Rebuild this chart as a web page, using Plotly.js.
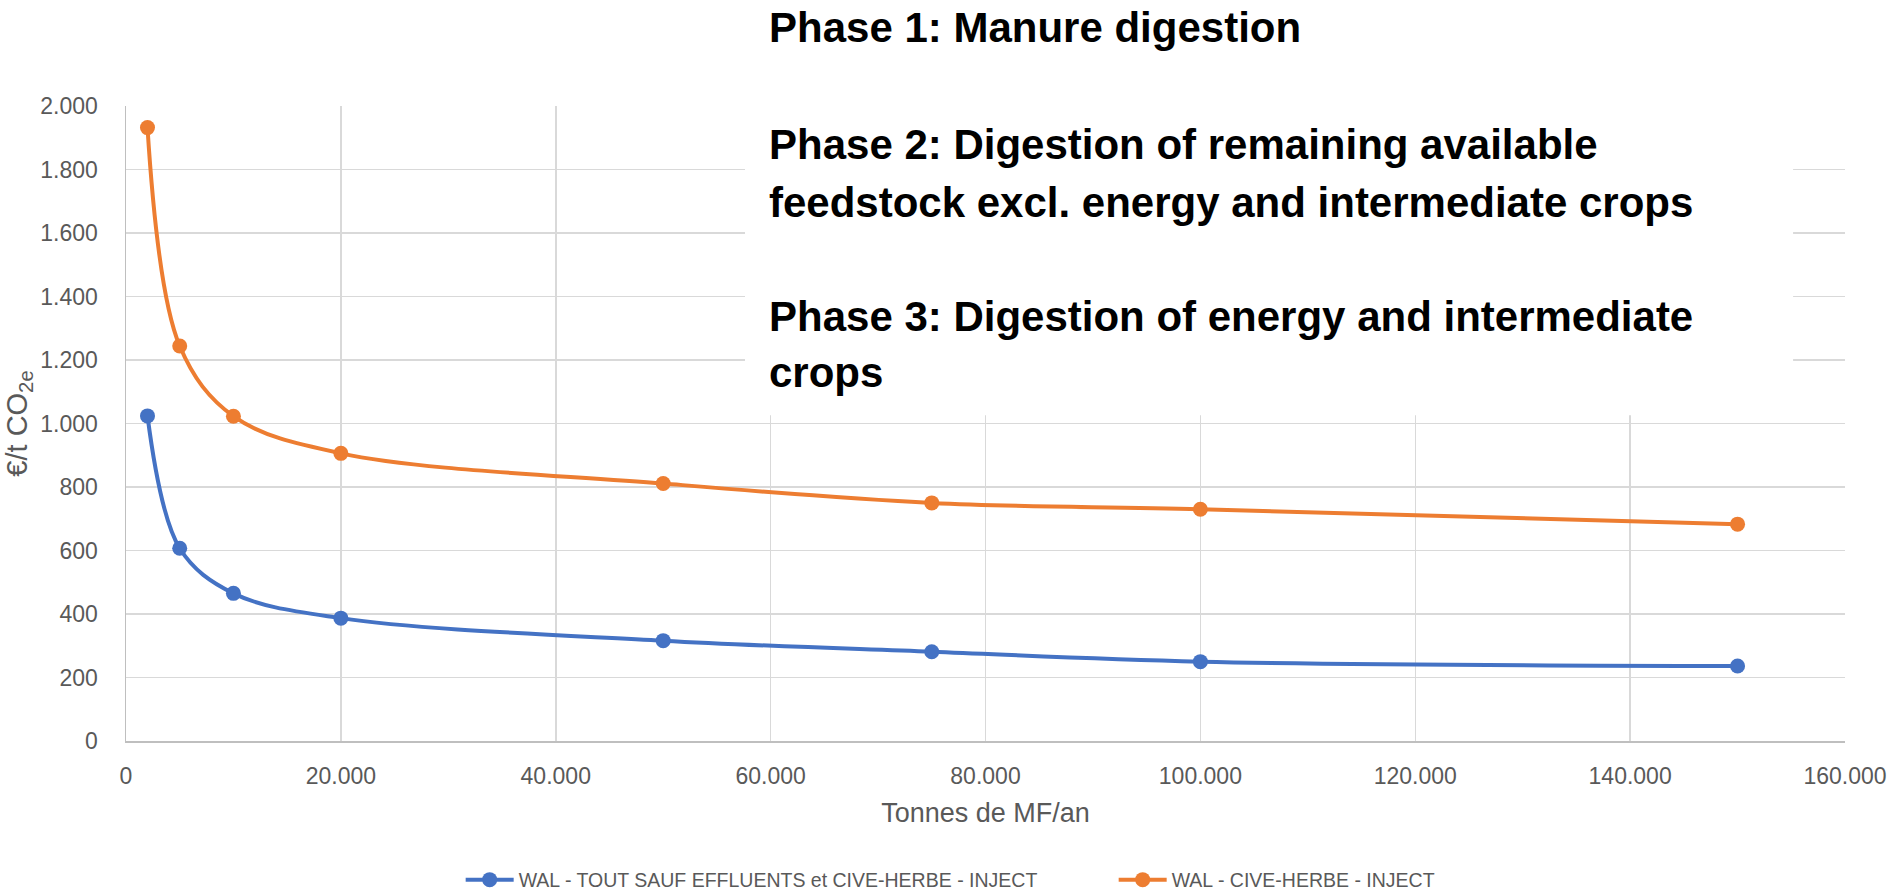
<!DOCTYPE html>
<html>
<head>
<meta charset="utf-8">
<script src="https://cdn.plot.ly/plotly-3.0.1.min.js"></script>
<style>html,body{margin:0;padding:0;background:#fff;}#chart{width:1888px;height:892px;}</style>
</head>
<body>
<div id="chart"></div>
<script>
// Data
const tonnes = [2000, 5000, 10000, 20000, 50000, 75000, 100000, 150000];
const seriesBlueName = 'WAL - TOUT SAUF EFFLUENTS et CIVE-HERBE - INJECT';
const seriesBlue = [1024, 607, 465, 387, 316, 281, 250, 236];
const seriesOrangeName = 'WAL - CIVE-HERBE - INJECT';
const seriesOrange = [1932, 1244, 1023, 906, 811, 750, 730, 683];
const phaseLines = [
  'Phase 1: Manure digestion',
  'Phase 2: Digestion of remaining available',
  'feedstock excl. energy and intermediate crops',
  'Phase 3: Digestion of energy and intermediate',
  'crops'
];
const phaseY = [1.1231, 0.9389, 0.8476, 0.6682, 0.5800];

const FONT = '"Liberation Sans", Arial, sans-serif';
const GREY = '#595959';

const traces = [
  {
    x: tonnes, y: seriesBlue, name: seriesBlueName, type: 'scatter', mode: 'lines+markers',
    line: {color: '#4472C4', width: 4, shape: 'spline', smoothing: 1},
    marker: {color: '#4472C4', size: 15}
  },
  {
    x: tonnes, y: seriesOrange, name: seriesOrangeName, type: 'scatter', mode: 'lines+markers',
    line: {color: '#ED7D31', width: 4, shape: 'spline', smoothing: 1},
    marker: {color: '#ED7D31', size: 15}
  }
];

const annotations = phaseLines.map((t, i) => ({
  text: '<b>' + t + '</b>', xref: 'paper', yref: 'paper', x: 0.3729, y: phaseY[i],
  xanchor: 'left', yanchor: 'middle', showarrow: false, align: 'left',
  font: {family: FONT, size: 42, color: '#000000'}
}));

const layout = {
  width: 1888, height: 892,
  margin: {l: 126, r: 43, t: 106, b: 151, pad: 0},
  paper_bgcolor: '#ffffff', plot_bgcolor: '#ffffff',
  separators: ',.',
  font: {family: FONT, size: 23, color: GREY},
  showlegend: true,
  legend: {
    orientation: 'h', xref: 'container', yref: 'container', x: 0.244, y: 0.0135,
    xanchor: 'left', yanchor: 'middle', font: {family: FONT, size: 19.5, color: GREY},
    itemwidth: 48, entrywidth: 590, entrywidthmode: 'pixels'
  },
  xaxis: {
    range: [0, 160000], dtick: 20000, tick0: 0, tickformat: ',',
    showgrid: true, gridcolor: '#D9D9D9', gridwidth: 1.5,
    showline: true, linecolor: '#BFBFBF', linewidth: 1.5,
    zeroline: false, ticks: '', ticklabelstandoff: 14,
    tickfont: {family: FONT, size: 23, color: GREY},
    title: {text: 'Tonnes de MF/an', font: {family: FONT, size: 27, color: GREY}, standoff: 15}
  },
  yaxis: {
    range: [0, 2000], dtick: 200, tick0: 0, tickformat: ',',
    showgrid: true, gridcolor: '#D9D9D9', gridwidth: 1.5,
    showline: true, linecolor: '#BFBFBF', linewidth: 1.5,
    zeroline: false, ticks: '', ticklabelstandoff: 22,
    tickfont: {family: FONT, size: 23, color: GREY},
    title: {text: '€/t CO<sub>2e</sub>', font: {family: FONT, size: 29, color: GREY}, standoff: 4}
  },
  shapes: [{
    type: 'rect', xref: 'paper', yref: 'paper', x0: 0.3601, x1: 0.9698, y0: 0.5131, y1: 1.2,
    fillcolor: '#ffffff', line: {width: 0}, layer: 'above'
  }],
  annotations: annotations
};

Plotly.newPlot('chart', traces, layout, {displayModeBar: false, staticPlot: true});
</script>
</body>
</html>
